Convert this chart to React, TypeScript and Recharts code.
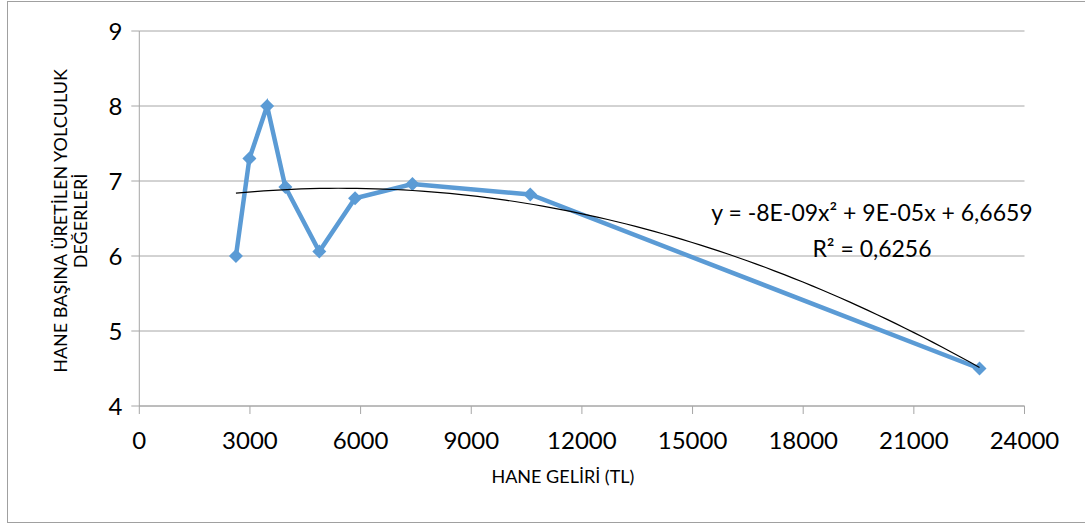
import { CartesianGrid, Label, Scatter, ScatterChart, XAxis, YAxis } from "recharts";

// hane geliri (TL) vs hane başına üretilen yolculuk
const income = [2620, 2985, 3465, 3960, 4880, 5850, 7405, 10600, 22780];
const trips = [6.0, 7.3, 8.0, 6.92, 6.06, 6.77, 6.96, 6.82, 4.5];
const xTicks = [0, 3000, 6000, 9000, 12000, 15000, 18000, 21000, 24000];
const yTicks = [4, 5, 6, 7, 8, 9];
const equation = "y = -8E-09x² + 9E-05x + 6,6659";
const rSquared = "R² = 0,6256";

const data = income.map((x, i) => ({ x, y: trips[i] }));

// 2nd order polynomial least-squares fit (same as the Excel trendline)
function polyFit(xs: number[], ys: number[]) {
  const s = (f: (x: number, y: number) => number) => xs.reduce((acc, x, i) => acc + f(x, ys[i]), 0);
  const n = xs.length;
  const sx = s((x) => x), sx2 = s((x) => x * x), sx3 = s((x) => x ** 3), sx4 = s((x) => x ** 4);
  const sy = s((_, y) => y), sxy = s((x, y) => x * y), sx2y = s((x, y) => x * x * y);
  const m = [
    [sx4, sx3, sx2, sx2y],
    [sx3, sx2, sx, sxy],
    [sx2, sx, n, sy],
  ];
  for (let c = 0; c < 3; c++) {
    for (let r = c + 1; r < 3; r++) {
      const k = m[r][c] / m[c][c];
      for (let j = c; j < 4; j++) m[r][j] -= k * m[c][j];
    }
  }
  const res = [0, 0, 0];
  for (let r = 2; r >= 0; r--) {
    let v = m[r][3];
    for (let j = r + 1; j < 3; j++) v -= m[r][j] * res[j];
    res[r] = v / m[r][r];
  }
  return res; // a, b, c
}

const [a, b, c] = polyFit(income, trips);
const xMin = Math.min(...income);
const xMax = Math.max(...income);
const trend = Array.from({ length: 81 }, (_, i) => {
  const x = xMin + ((xMax - xMin) * i) / 80;
  return { x, y: a * x * x + b * x + c };
});

const FONT = "Lato, 'Open Sans', sans-serif";
const GRID = "#A6A6A6";

const Diamond = (props: any) => {
  const { cx, cy } = props;
  const r = 7;
  return <polygon points={`${cx},${cy - r} ${cx + r},${cy} ${cx},${cy + r} ${cx - r},${cy}`} fill="#5B9BD5" />;
};

const NoDot = () => null;

const YTitle = (props: any) => {
  const { x, y, height } = props.viewBox;
  const cy = y + height / 2 + 2.5;
  const l1 = x - 19;
  const l2 = x + 1;
  return (
    <g fontFamily={FONT} fontSize={18} fill="#000">
      <text x={l1} y={cy} textAnchor="middle" dominantBaseline="central" transform={`rotate(-90, ${l1}, ${cy})`}>
        HANE BAŞINA ÜRETİLEN YOLCULUK
      </text>
      <text x={l2} y={cy} textAnchor="middle" dominantBaseline="central" transform={`rotate(-90, ${l2}, ${cy})`}>
        DEĞERLERİ
      </text>
    </g>
  );
};

const XTitle = (props: any) => {
  const { x, y, width } = props.viewBox;
  return (
    <text x={x + width / 2 - 19} y={y + 70} textAnchor="middle" dominantBaseline="central" fontFamily={FONT} fontSize={18} fill="#000">
      HANE GELİRİ (TL)
    </text>
  );
};

export default function App() {
  return (
    <div style={{ position: "absolute", left: 0, top: 0, width: 1085, height: 525, overflow: "hidden", background: "#fff" }}>
      <div style={{ position: "absolute", left: 7, top: 1, width: 1100, height: 520, border: "1px solid #A0A0A0" }} />
      <ScatterChart
        width={1085}
        height={525}
        margin={{ top: 31, right: 60.5, bottom: 59, left: 79.3 }}
        style={{ position: "absolute", left: 0, top: 0 }}
      >
        <CartesianGrid vertical={false} stroke={GRID} strokeWidth={1} />
        <XAxis
          type="number"
          dataKey="x"
          domain={[0, 24000]}
          ticks={xTicks}
          interval={0}
          height={60}
          tickSize={8}
          tickMargin={18}
          stroke={GRID}
          tick={{ fill: "#000", fontSize: 24, fontFamily: FONT }}
          axisLine={{ stroke: GRID }}
          tickLine={{ stroke: GRID }}
        >
          <Label content={XTitle} />
        </XAxis>
        <YAxis
          type="number"
          dataKey="y"
          domain={[4, 9]}
          ticks={yTicks}
          interval={0}
          width={60}
          tickSize={8}
          tickMargin={9}
          tick={{ fill: "#000", fontSize: 24, fontFamily: FONT }}
          axisLine={{ stroke: GRID }}
          tickLine={{ stroke: GRID }}
        >
          <Label content={YTitle} />
        </YAxis>
        <Scatter
          data={data}
          line={{ stroke: "#5B9BD5", strokeWidth: 4.5 }}
          shape={Diamond}
          isAnimationActive={false}
        />
        <Scatter
          data={trend}
          line={{ stroke: "#000", strokeWidth: 1.2 }}
          shape={NoDot}
          isAnimationActive={false}
        />
      </ScatterChart>
      <div
        style={{
          position: "absolute",
          left: 702,
          top: 194,
          width: 340,
          textAlign: "center",
          fontFamily: FONT,
          fontSize: 23,
          lineHeight: "36px",
          color: "#000",
          whiteSpace: "nowrap",
        }}
      >
        <div>{equation}</div>
        <div>{rSquared}</div>
      </div>
    </div>
  );
}
